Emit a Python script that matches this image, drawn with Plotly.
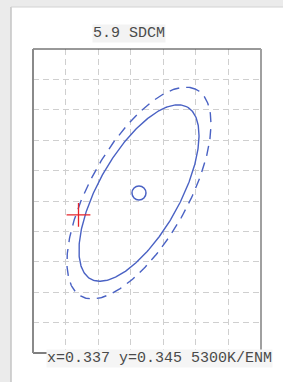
import numpy as np
import plotly.graph_objects as go

# ---------------- data ----------------
x_range = [0, 7]          # grid units (7 columns)
y_range = [0, 10]         # grid units (10 rows)

center_x = 3.254          # ellipse centre (5300K / ENM target)
center_y = 5.262
step_a = 0.639            # semi-major axis for one SDCM step
step_b = 0.254            # semi-minor axis for one SDCM step
angle_deg = 62.9          # orientation of the major axis
ellipse_steps = [5, 6]
ellipse_dashes = ["solid", "10px,7px"]

test_x = [1.397]          # measured point
test_y = [4.541]

title_text = "5.9 SDCM"
info_text = "x=0.337 y=0.345 5300K/ENM"

# ---------------- layout geometry (pixels) ----------------
W, H = 283, 382
L, R, T, B = 33, 261, 49, 353


def px_x(px):
    return (px - L) / (R - L)


def px_y(py):
    return (B - py) / (B - T)


BLUE = "#4a62c4"
fig = go.Figure()

th = np.deg2rad(angle_deg)
t = np.linspace(0, 2 * np.pi, 361)
for n, dash in zip(ellipse_steps, ellipse_dashes):
    a, b = n * step_a, n * step_b
    ex = center_x + a * np.cos(t) * np.cos(th) - b * np.sin(t) * np.sin(th)
    ey = center_y + a * np.cos(t) * np.sin(th) + b * np.sin(t) * np.cos(th)
    fig.add_trace(go.Scatter(x=ex, y=ey, mode="lines",
                             line=dict(color=BLUE, width=1.4, dash=dash),
                             hoverinfo="skip", showlegend=False))

fig.add_trace(go.Scatter(x=[center_x], y=[center_y], mode="markers",
                         marker=dict(symbol="circle-open", size=14,
                                     line=dict(color=BLUE, width=1.5), color=BLUE),
                         showlegend=False))
fig.add_trace(go.Scatter(x=test_x, y=test_y, mode="markers",
                         marker=dict(symbol="cross-thin", size=17,
                                     line=dict(color="#e5242a", width=1.3)),
                         showlegend=False))

axis_common = dict(showgrid=True, gridcolor="#cfcfcf", gridwidth=1,
                   griddash="6px,4px", zeroline=False, showline=False,
                   showticklabels=False, ticks="", dtick=1, fixedrange=True)

shapes = [
    # white panel
    dict(type="rect", xref="paper", yref="paper", x0=px_x(11), x1=px_x(290),
         y0=px_y(7), y1=px_y(390), fillcolor="white", line=dict(width=0),
         layer="below"),
    dict(type="line", xref="paper", yref="paper", x0=px_x(11), x1=px_x(11),
         y0=px_y(7), y1=px_y(390), line=dict(color="#c4c4c4", width=1.5)),
    dict(type="line", xref="paper", yref="paper", x0=px_x(11), x1=px_x(290),
         y0=px_y(7), y1=px_y(7), line=dict(color="#d2d2d2", width=1)),
    # plot frame
    dict(type="line", xref="paper", yref="paper", x0=0, x1=1, y0=1, y1=1,
         line=dict(color="#333333", width=1)),
    dict(type="line", xref="paper", yref="paper", x0=0, x1=1, y0=0, y1=0,
         line=dict(color="#555555", width=1.5)),
    dict(type="line", xref="paper", yref="paper", x0=0, x1=0, y0=0, y1=1,
         line=dict(color="#8a8a8a", width=2)),
    dict(type="line", xref="paper", yref="paper", x0=1, x1=1, y0=0, y1=1,
         line=dict(color="#a0a0a0", width=2)),
]

font = dict(family="Courier New, Liberation Mono, monospace", size=15, color="#4a4a4a")
annotations = [
    dict(text=title_text, xref="paper", yref="paper", x=px_x(129), y=px_y(33),
         xanchor="center", yanchor="middle", showarrow=False, font=font,
         bgcolor="#f3f3f3", borderpad=0),
    dict(text=info_text, xref="paper", yref="paper", x=px_x(159), y=px_y(358),
         xanchor="center", yanchor="middle", showarrow=False, font=font,
         bgcolor="#f5f5f5", borderpad=0),
]

fig.update_layout(
    width=W, height=H,
    margin=dict(l=L, r=W - R, t=T, b=H - B, pad=0),
    paper_bgcolor="#ebebeb", plot_bgcolor="white",
    xaxis=dict(range=x_range, **axis_common),
    yaxis=dict(range=y_range, **axis_common),
    shapes=shapes, annotations=annotations,
    showlegend=False,
)

fig.write_html(
    "out.html",
    config={"displayModeBar": False},
    post_script="document.body.style.margin='0';document.body.style.padding='0';"
                "document.body.style.overflow='hidden';"
                "document.documentElement.style.overflow='hidden';",
)
